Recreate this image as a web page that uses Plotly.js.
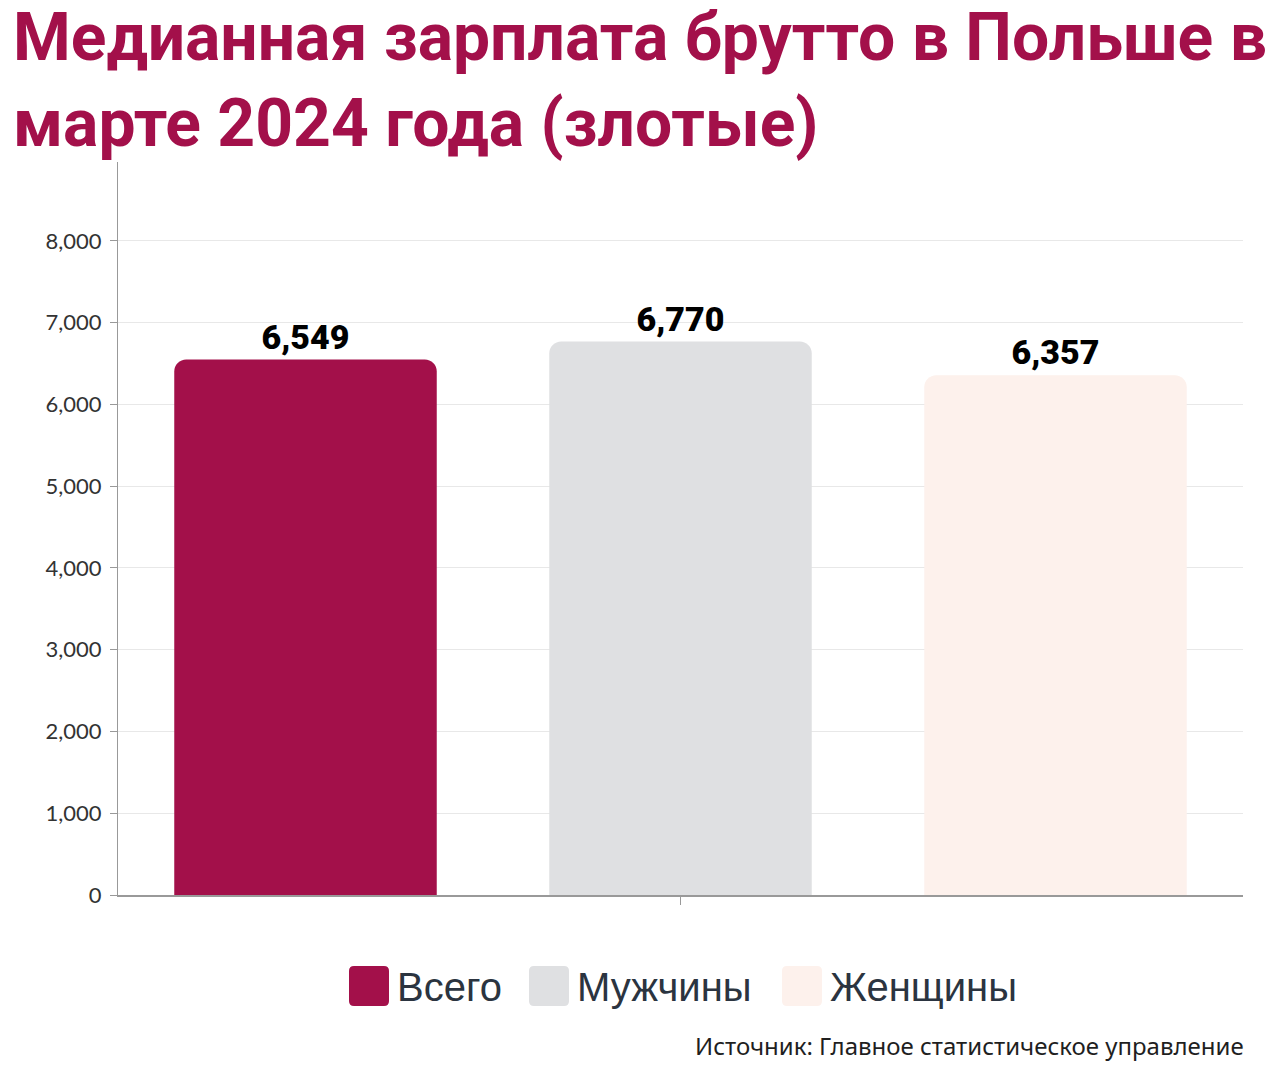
<!DOCTYPE html>
<html>
<head>
<meta charset="utf-8">
<script src="https://cdn.plot.ly/plotly-3.0.1.min.js"></script>
<style>
html,body{margin:0;padding:0;background:#fff;}
#chart{width:1280px;height:1068px;}
</style>
</head>
<body>
<div id="chart"></div>
<script>
const category = ["Март 2024"];
const seriesNames = ["Всего", "Мужчины", "Женщины"];
const seriesValues = [6549, 6770, 6357];
const seriesColors = ["#A3104A", "#DFE0E2", "#FDF1EC"];
const yTickValues = [0, 1000, 2000, 3000, 4000, 5000, 6000, 7000, 8000];
const titleText = "Медианная зарплата брутто в Польше в<br>марте 2024 года (злотые)";
const sourceText = "Источник: Главное статистическое управление";

const traces = seriesNames.map((name, i) => ({
  type: "bar",
  name: name,
  x: category,
  y: [seriesValues[i]],
  marker: { color: seriesColors[i], cornerradius: 12, line: { width: 0 } },
  texttemplate: "%{y:,}",
  textposition: "outside",
  cliponaxis: false,
  textfont: { family: "Roboto, sans-serif", size: 34, color: "#000", weight: 900 },
  showlegend: false,
  hoverinfo: "name+y"
}));

const W = 1280, H = 1068;
const PL = 118, PR = 1243, PT = 162, PB = 895;
const px = v => (v - PL) / (PR - PL);
const py = v => (PB - v) / (PB - PT);

function roundRectPath(x0, y0, x1, y1, r) {
  const X0 = px(x0), X1 = px(x1), Y0 = py(y0), Y1 = py(y1);
  const rx = r / (PR - PL), ry = r / (PB - PT);
  return `M${X0+rx},${Y0} L${X1-rx},${Y0} Q${X1},${Y0} ${X1},${Y0-ry} L${X1},${Y1+ry} Q${X1},${Y1} ${X1-rx},${Y1} L${X0+rx},${Y1} Q${X0},${Y1} ${X0},${Y1+ry} L${X0},${Y0-ry} Q${X0},${Y0} ${X0+rx},${Y0} Z`;
}

// custom legend (large rounded swatches)
const legendSwatchX = [349, 529, 782];
const shapes = [];
const annotations = [];
seriesNames.forEach((name, i) => {
  const x0 = legendSwatchX[i], x1 = x0 + 40;
  shapes.push({
    type: "path", xref: "paper", yref: "paper",
    path: roundRectPath(x0, 966, x1, 1006, 5),
    fillcolor: seriesColors[i], line: { width: 0 }
  });
  annotations.push({
    xref: "paper", yref: "paper", x: px(x1 + 6), y: py(987),
    xanchor: "left", yanchor: "middle", showarrow: false,
    text: name, font: { family: "Liberation Sans, Arial, sans-serif", size: 40, color: "#2B3440" }
  });
});
annotations.push({
  xref: "paper", yref: "paper", x: px(1246), y: py(1045),
  xanchor: "right", yanchor: "middle", showarrow: false,
  text: sourceText, font: { family: "Noto Sans, sans-serif", size: 24, color: "#1f1f1f" }
});

const layout = {
  width: W, height: H,
  margin: { l: PL, r: W - PR, t: PT, b: H - PB },
  paper_bgcolor: "#fff", plot_bgcolor: "#fff",
  barmode: "group", bargap: 0, bargroupgap: 0.3,
  title: {
    text: titleText, x: 13 / W, xanchor: "left", xref: "container",
    y: 1 - 60 / H, yanchor: "top", yref: "container",
    font: { family: "Roboto, Liberation Sans, sans-serif", size: 66, color: "#A3104A", weight: 700 }
  },
  xaxis: {
    showticklabels: false, ticks: "outside", ticklen: 8, tickcolor: "#999",
    showline: true, linecolor: "#999", linewidth: 1.5, showgrid: false, zeroline: false
  },
  yaxis: {
    range: [0, 8966], tickvals: yTickValues, tickformat: ",",
    ticks: "outside", ticklen: 7, tickcolor: "#999", ticklabelstandoff: 4,
    showline: true, linecolor: "#999", linewidth: 1,
    gridcolor: "#E8E8E8", gridwidth: 1, zeroline: false,
    tickfont: { family: "Lato, sans-serif", size: 22, color: "#333" }
  },
  shapes: shapes,
  annotations: annotations,
  showlegend: false
};

Plotly.newPlot("chart", traces, layout, { displayModeBar: false, staticPlot: true });
</script>
</body>
</html>
